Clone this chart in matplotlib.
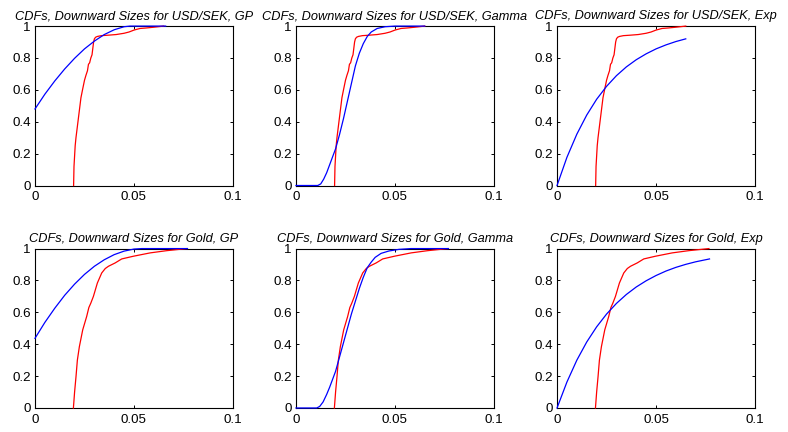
import numpy as np
import matplotlib
matplotlib.use("Agg")
import matplotlib.pyplot as plt

plt.rcParams['font.family'] = ['Liberation Sans', 'DejaVu Sans']

# empirical CDFs of downward jump sizes
usdsek_x = [0.0195, 0.0197, 0.0203, 0.0207, 0.0213, 0.0222, 0.0232, 0.0240, 0.0250, 0.0257,
            0.0265, 0.0270, 0.0276, 0.0282, 0.0288, 0.0292, 0.0296, 0.0300, 0.0306, 0.0315,
            0.0335, 0.0370, 0.0410, 0.0450, 0.0475, 0.0500, 0.0530, 0.0560, 0.0600, 0.0650]
usdsek_y = [0.0, 0.12, 0.25, 0.30, 0.36, 0.45, 0.55, 0.60, 0.66, 0.69,
            0.72, 0.76, 0.77, 0.80, 0.82, 0.86, 0.90, 0.92, 0.93, 0.935,
            0.94, 0.943, 0.947, 0.955, 0.963, 0.975, 0.985, 0.988, 0.993, 1.0]

gold_x = [0.0194, 0.0200, 0.0207, 0.0214, 0.0224, 0.0241, 0.0261, 0.0272, 0.0282, 0.0295,
          0.0315, 0.0337, 0.0355, 0.0371, 0.0405, 0.0438, 0.0497, 0.0582, 0.0666, 0.0767]
gold_y = [0.0, 0.10, 0.195, 0.30, 0.384, 0.49, 0.574, 0.63, 0.658, 0.70,
          0.784, 0.847, 0.875, 0.889, 0.91, 0.935, 0.952, 0.973, 0.987, 1.0]

# fitted CDFs
usdsek_gp_x = [0.0, 0.005, 0.01, 0.015, 0.02, 0.025, 0.03, 0.035, 0.04, 0.045, 0.048, 0.066]
usdsek_gp_y = [0.48, 0.573, 0.656, 0.731, 0.798, 0.857, 0.906, 0.947, 0.977, 0.996, 1.0, 1.0]

usdsek_gam_x = [0.0, 0.011, 0.0125, 0.014, 0.0155, 0.017, 0.0185, 0.020, 0.022, 0.024, 0.026,
                0.028, 0.030, 0.032, 0.034, 0.036, 0.038, 0.041, 0.045, 0.05, 0.065]
usdsek_gam_y = [0.0, 0.0, 0.01, 0.04, 0.08, 0.13, 0.18, 0.23, 0.32, 0.42, 0.53,
                0.64, 0.75, 0.83, 0.89, 0.935, 0.963, 0.985, 0.996, 1.0, 1.0]

usdsek_exp_x = [0.0, 0.005, 0.01, 0.015, 0.02, 0.025, 0.03, 0.035, 0.04, 0.045, 0.05, 0.055, 0.06, 0.065]
usdsek_exp_y = [0.0, 0.177, 0.322, 0.442, 0.541, 0.622, 0.689, 0.744, 0.789, 0.826, 0.857, 0.882, 0.903, 0.920]

gold_gp_x = [0.0, 0.005, 0.01, 0.015, 0.02, 0.025, 0.03, 0.035, 0.04, 0.045, 0.05, 0.054, 0.077]
gold_gp_y = [0.437, 0.537, 0.626, 0.707, 0.777, 0.838, 0.889, 0.930, 0.962, 0.984, 0.997, 1.0, 1.0]

gold_gam_x = [0.0, 0.0105, 0.012, 0.0137, 0.0155, 0.017, 0.0185, 0.020, 0.022, 0.024, 0.026, 0.028,
              0.030, 0.032, 0.034, 0.036, 0.038, 0.040, 0.043, 0.047, 0.052, 0.058, 0.077]
gold_gam_y = [0.0, 0.0, 0.01, 0.038, 0.085, 0.13, 0.18, 0.23, 0.32, 0.41, 0.50, 0.59,
              0.67, 0.75, 0.82, 0.88, 0.915, 0.945, 0.97, 0.985, 0.995, 1.0, 1.0]

gold_exp_x = [0.0, 0.005, 0.01, 0.015, 0.02, 0.025, 0.03, 0.035, 0.04, 0.045, 0.05,
              0.055, 0.06, 0.065, 0.07, 0.077]
gold_exp_y = [0.0, 0.163, 0.300, 0.414, 0.509, 0.589, 0.656, 0.712, 0.759, 0.798, 0.831,
              0.859, 0.882, 0.901, 0.917, 0.935]

titles = ["CDFs, Downward Sizes for USD/SEK, GP",
          "CDFs, Downward Sizes for USD/SEK, Gamma",
          "CDFs, Downward Sizes for USD/SEK, Exp",
          "CDFs, Downward Sizes for Gold, GP",
          "CDFs, Downward Sizes for Gold, Gamma",
          "CDFs, Downward Sizes for Gold, Exp"]

empirical = [(usdsek_x, usdsek_y)] * 3 + [(gold_x, gold_y)] * 3
fitted = [(usdsek_gp_x, usdsek_gp_y), (usdsek_gam_x, usdsek_gam_y), (usdsek_exp_x, usdsek_exp_y),
          (gold_gp_x, gold_gp_y), (gold_gam_x, gold_gam_y), (gold_exp_x, gold_exp_y)]

fig = plt.figure(figsize=(7.88, 4.32), dpi=100)
lefts = [0.0444, 0.3756, 0.7069]
bottoms = [0.5706, 0.0556]

for i in range(6):
    r, c = divmod(i, 3)
    ax = fig.add_axes([lefts[c], bottoms[r], 0.2513, 0.369])
    ex, ey = empirical[i]
    fx, fy = fitted[i]
    # draw above the box so curves sitting at 0 or 1 stay visible
    ax.plot(ex, ey, color="red", lw=0.9, clip_on=False, zorder=3)
    ax.plot(fx, fy, color="blue", lw=0.9, clip_on=False, zorder=3)
    ax.set_xlim(0, 0.1)
    ax.set_ylim(0, 1)
    ax.set_xticks([0, 0.05, 0.1])
    ax.set_xticklabels(["0", "0.05", "0.1"])
    ax.set_yticks([0, 0.2, 0.4, 0.6, 0.8, 1])
    ax.set_yticklabels(["0", "0.2", "0.4", "0.6", "0.8", "1"])
    ax.tick_params(direction="in", length=2.5, width=0.7, top=True, right=True, labelsize=9.6)
    ax.tick_params(axis="x", pad=4)
    ax.tick_params(axis="y", pad=3)
    for s in ax.spines.values():
        s.set_linewidth(0.8)
    ax.set_title(titles[i], fontsize=9.2, style="italic", pad=5)

fig.savefig("out.png", dpi=100)
